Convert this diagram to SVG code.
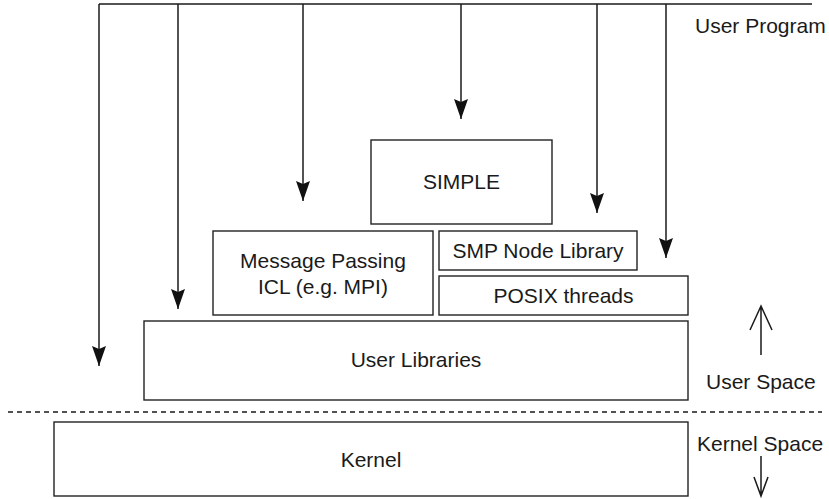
<svg xmlns="http://www.w3.org/2000/svg" width="829" height="499" viewBox="0 0 829 499">
<style>
.box{fill:#fff;stroke:#222;stroke-width:1.4}
.ln{fill:none;stroke:#1a1a1a;stroke-width:1.5}
.t{font-family:"Liberation Sans",Arial,sans-serif;font-size:21px;fill:#1a1a1a}
.c{text-anchor:middle}
</style>
<defs>
<marker id="ah" markerUnits="userSpaceOnUse" viewBox="0 -8 21 16" refX="20" refY="0" markerWidth="21" markerHeight="16" orient="auto">
<path d="M0,-7 L20,0 L0,7 L3,0 z" fill="#111"/>
</marker>
</defs>
<rect width="829" height="499" fill="#fff"/>
<g id="connectors">
<path class="ln" d="M99,4 H812"/>
<path class="ln" d="M99,4 V366" marker-end="url(#ah)"/>
<path class="ln" d="M178,4 V309" marker-end="url(#ah)"/>
<path class="ln" d="M303,4 V201" marker-end="url(#ah)"/>
<path class="ln" d="M461,4 V119" marker-end="url(#ah)"/>
<path class="ln" d="M597,4 V213" marker-end="url(#ah)"/>
<path class="ln" d="M666,4 V258" marker-end="url(#ah)"/>
<path class="ln" d="M8,412 H822" stroke-dasharray="5,4" stroke-width="1.2"/>
<path class="ln" d="M761,355 V306 M750,330 L761,306 L772,330" stroke-width="1.2"/>
<path class="ln" d="M761,456 V496 M754,477 L761,496 L768,477" stroke-width="1.2"/>
</g>
<g id="simple"><rect class="box" x="371" y="140" width="181" height="84"/><text class="t c" x="461.5" y="189">SIMPLE</text></g>
<g id="smp"><rect class="box" x="439" y="231" width="198" height="39"/><text class="t c" x="538" y="258">SMP Node Library</text></g>
<g id="posix"><rect class="box" x="439" y="276" width="249" height="39"/><text class="t c" x="563.5" y="303">POSIX threads</text></g>
<g id="mpi"><rect class="box" x="213" y="231" width="220" height="84"/><text class="t c" x="323" y="268">Message Passing</text><text class="t c" x="323" y="294">ICL (e.g. MPI)</text></g>
<g id="userlib"><rect class="box" x="144" y="321" width="544" height="79"/><text class="t c" x="416" y="367">User Libraries</text></g>
<g id="kernel"><rect class="box" x="54" y="422" width="634" height="74"/><text class="t c" x="371" y="467">Kernel</text></g>
<g id="labels">
<text class="t" x="695" y="33">User Program</text>
<text class="t" x="706" y="389">User Space</text>
<text class="t" x="697" y="451">Kernel Space</text>
</g>
</svg>
